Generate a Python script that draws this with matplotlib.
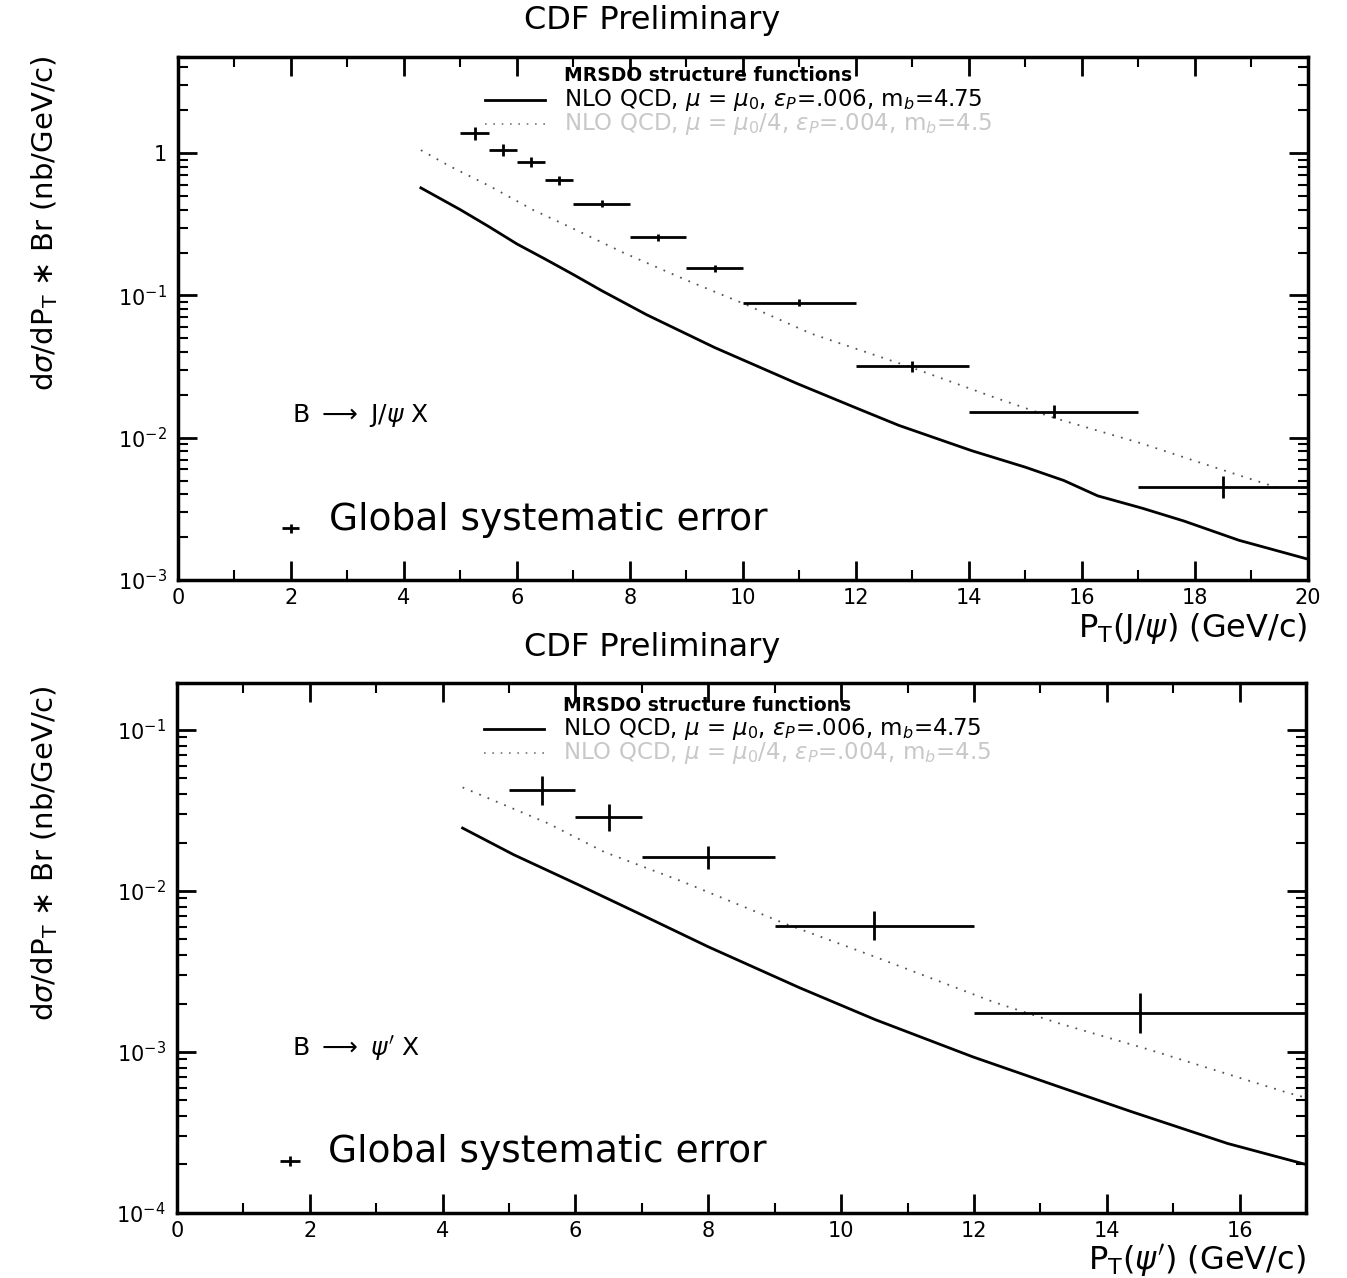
import numpy as np
import matplotlib
matplotlib.use("Agg")
import matplotlib.pyplot as plt
from matplotlib.ticker import MultipleLocator, LogLocator, FuncFormatter, NullFormatter

plt.rcParams["font.family"] = ["DejaVu Sans"]
plt.rcParams["mathtext.fontset"] = "dejavusans"

# ---- B -> J/psi X (top panel) ----
jpsi_pt = [5.25, 5.75, 6.25, 6.75, 7.5, 8.5, 9.5, 11.0, 13.0, 15.5, 18.5]
jpsi_bin = [0.25, 0.25, 0.25, 0.25, 0.5, 0.5, 0.5, 1.0, 1.0, 1.5, 1.5]
jpsi_xsec = [1.38, 1.05, 0.86, 0.645, 0.44, 0.256, 0.155, 0.089, 0.0317, 0.0152, 0.0045]
jpsi_err_dec = [0.046, 0.04, 0.035, 0.03, 0.025, 0.025, 0.025, 0.023, 0.04, 0.046, 0.074]

jpsi_nlo_pt = [4.3, 5.0, 5.5, 6.0, 6.5, 7.0, 7.5, 8.3, 9.5, 10.96, 12.0, 12.76, 14.05,
               15.0, 15.68, 16.28, 17.06, 17.8, 18.78, 20.0]
jpsi_nlo = [0.57, 0.40, 0.305, 0.23, 0.18, 0.14, 0.108, 0.073, 0.043, 0.024, 0.0162,
            0.0122, 0.0081, 0.0062, 0.005, 0.0039, 0.0032, 0.0026, 0.0019, 0.0014]
jpsi_nlo4_pt = [4.3, 4.81, 5.52, 6.28, 6.88, 7.88, 9.0, 10.0, 11.2, 13.0, 14.48, 15.5,
                17.06, 18.34, 19.5]
jpsi_nlo4 = [1.05, 0.81, 0.586, 0.40, 0.31, 0.2, 0.128, 0.088, 0.054, 0.031, 0.019,
             0.0138, 0.0091, 0.0062, 0.0044]

# ---- B -> psi' X (bottom panel) ----
psi2_pt = [5.5, 6.5, 8.0, 10.5, 14.5]
psi2_bin = [0.5, 0.5, 1.0, 1.5, 2.5]
psi2_xsec = [0.0423, 0.0288, 0.0162, 0.0061, 0.00175]
psi2_err_dec = [0.09, 0.084, 0.073, 0.09, 0.124]

psi2_nlo_pt = [4.3, 5.07, 6.03, 7.0, 8.0, 9.38, 10.51, 11.99, 13.27, 14.37, 15.82, 17.0]
psi2_nlo = [0.0246, 0.0168, 0.011, 0.0071, 0.0045, 0.0025, 0.00159, 0.00093, 0.00061,
            0.000426, 0.00027, 0.0002]
psi2_nlo4_pt = [4.3, 5.58, 6.43, 7.62, 9.14, 10.51, 12.3, 13.27, 14.65, 16.71, 17.0]
psi2_nlo4 = [0.044, 0.0264, 0.0175, 0.0114, 0.0063, 0.0039, 0.00204, 0.00151, 0.00103,
             0.00056, 0.00052]

# global systematic error key markers (x, y, xerr, yerr in decades)
jpsi_glob = (2.0, 2.3e-3, 0.15, 0.03)
psi2_glob = (1.7, 2.1e-4, 0.15, 0.03)

NLO_TXT = r"NLO QCD, $\mu$ = $\mu_0$, $\varepsilon_P$=.006, m$_b$=4.75"
NLO4_TXT = r"NLO QCD, $\mu$ = $\mu_0$/4, $\varepsilon_P$=.004, m$_b$=4.5"

DOT = (0, (1, 4))
GRAY_TXT = "#c8c8c8"


def yfmt(v, pos):
    if abs(v - 1) < 1e-9:
        return "1"
    e = int(round(np.log10(v)))
    return r"$10^{%d}$" % e


def asym(y, d):
    y = np.asarray(y)
    d = np.asarray(d)
    return [y * (1 - 10 ** -d), y * (10 ** d - 1)]


def style_axes(ax, xmax, ylo, yhi):
    ax.set_xlim(0, xmax)
    ax.set_yscale("log")
    ax.set_ylim(ylo, yhi)
    ax.xaxis.set_major_locator(MultipleLocator(2))
    ax.xaxis.set_minor_locator(MultipleLocator(1))
    ax.yaxis.set_major_locator(LogLocator(base=10))
    ax.yaxis.set_minor_locator(LogLocator(base=10, subs=np.arange(2, 10)))
    ax.yaxis.set_major_formatter(FuncFormatter(yfmt))
    ax.yaxis.set_minor_formatter(NullFormatter())
    ax.tick_params(which="both", direction="in", top=True, right=True, labelsize=15)
    ax.tick_params(which="major", length=14, width=2)
    ax.tick_params(which="minor", length=7, width=1.5)
    ax.tick_params(axis="x", pad=6)
    ax.tick_params(axis="y", pad=8)
    for s in ax.spines.values():
        s.set_linewidth(2.5)


def legend_block(ax, ytop, dy):
    # ytop: axes fraction of the first line, dy: line step in axes fraction
    ax.text(0.342, ytop, "MRSDO structure functions", transform=ax.transAxes,
            fontsize=13.5, fontweight="bold", va="center", ha="left")
    ax.plot([0.272, 0.325], [ytop - dy, ytop - dy], color="black", lw=2,
            transform=ax.transAxes)
    ax.text(0.342, ytop - dy, NLO_TXT, transform=ax.transAxes, fontsize=16.5,
            va="center", ha="left")
    ax.plot([0.272, 0.325], [ytop - 2 * dy, ytop - 2 * dy], color="#777777", lw=1.2,
            ls=DOT, transform=ax.transAxes)
    ax.text(0.342, ytop - 2 * dy, NLO4_TXT, transform=ax.transAxes, fontsize=16.5,
            va="center", ha="left", color=GRAY_TXT, clip_on=False)


fig = plt.figure(figsize=(13.47, 12.78), dpi=100)

# ---------- top ----------
ax1 = fig.add_axes([0.1321, 0.5462, 0.8389, 0.4092])
style_axes(ax1, 20, 1e-3, 4.74)
ax1.plot(jpsi_nlo_pt, jpsi_nlo, color="black", lw=2)
ax1.plot(jpsi_nlo4_pt, jpsi_nlo4, color="#555555", lw=1.3, ls=DOT)
ax1.errorbar(jpsi_pt, jpsi_xsec, xerr=jpsi_bin, yerr=asym(jpsi_xsec, jpsi_err_dec),
             fmt="none", ecolor="black", elinewidth=2, capsize=0)
gx, gy, gxe, gye = jpsi_glob
ax1.errorbar([gx], [gy], xerr=[gxe], yerr=asym([gy], [gye]), fmt="none",
             ecolor="black", elinewidth=2, capsize=0)
legend_block(ax1, 0.964, 0.046)
ax1.text(0.101, 0.315, r"B $\longrightarrow$ J/$\psi$ X", transform=ax1.transAxes,
         fontsize=18, va="center", ha="left")
ax1.text(0.134, 0.115, "Global systematic error", transform=ax1.transAxes,
         fontsize=27, va="center", ha="left")
ax1.text(1.0, -0.092, r"P$_\mathrm{T}$(J/$\psi$) (GeV/c)", transform=ax1.transAxes,
         fontsize=23, va="center", ha="right")

# ---------- bottom ----------
ax2 = fig.add_axes([0.1314, 0.0509, 0.8382, 0.4147])
style_axes(ax2, 17, 1e-4, 0.196)
ax2.plot(psi2_nlo_pt, psi2_nlo, color="black", lw=2)
ax2.plot(psi2_nlo4_pt, psi2_nlo4, color="#555555", lw=1.3, ls=DOT)
ax2.errorbar(psi2_pt, psi2_xsec, xerr=psi2_bin, yerr=asym(psi2_xsec, psi2_err_dec),
             fmt="none", ecolor="black", elinewidth=2, capsize=0)
gx, gy, gxe, gye = psi2_glob
ax2.errorbar([gx], [gy], xerr=[gxe], yerr=asym([gy], [gye]), fmt="none",
             ecolor="black", elinewidth=2, capsize=0)
legend_block(ax2, 0.958, 0.045)
ax2.text(0.102, 0.311, r"B $\longrightarrow$ $\psi'$ X", transform=ax2.transAxes,
         fontsize=18, va="center", ha="left")
ax2.text(0.134, 0.115, "Global systematic error", transform=ax2.transAxes,
         fontsize=27, va="center", ha="left")
ax2.text(1.0, -0.09, r"P$_\mathrm{T}$($\psi'$) (GeV/c)", transform=ax2.transAxes,
         fontsize=23, va="center", ha="right")

# titles and y labels
fig.text(0.484, 0.984, "CDF Preliminary", fontsize=23, ha="center", va="center")
fig.text(0.484, 0.493, "CDF Preliminary", fontsize=23, ha="center", va="center")
ylab = r"d$\sigma$/dP$_\mathrm{T}$ $\ast$ Br (nb/GeV/c)"
fig.text(0.033, 0.957, ylab, rotation=90, fontsize=21, ha="center", va="top")
fig.text(0.033, 0.464, ylab, rotation=90, fontsize=21, ha="center", va="top")

fig.savefig("out.png", dpi=100)
